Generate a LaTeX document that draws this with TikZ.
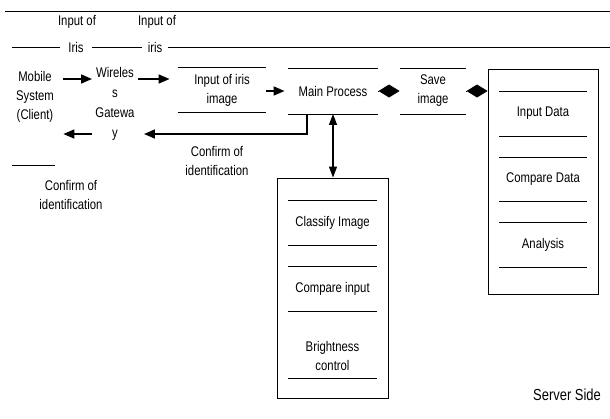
\documentclass[tikz,border=0pt]{standalone}
\usepackage{fontspec}
\setmainfont{Liberation Sans}[FakeStretch=0.81]
\usetikzlibrary{positioning,arrows.meta}
\tikzset{
  lbl/.style={align=center, font=\fontsize{14}{19}\selectfont, inner sep=3pt},
  item/.style={lbl, minimum width=88pt, minimum height=44pt},
  box/.style={draw, minimum width=110pt},
  arr/.style={line width=1.6pt, -{Triangle[length=11pt,width=9pt]}},
  dbl/.style={line width=1.3pt, {Triangle[length=11pt,width=8pt]}-{Triangle[length=11pt,width=8pt]}},
  dia/.style={-{Diamond[length=21pt,width=13pt]}},
}
\begin{document}
\begin{tikzpicture}[x=1pt, y=-1pt, line width=0.9pt]
    \useasboundingbox (0,0) rectangle (610,418);
    \draw (5,11) -- (610,11);
    % input labels on the line
    \node[lbl] (in1) at (77,22) {Input of};
    \node[lbl] (in2) at (157,22) {Input of};
    \node[lbl, inner xsep=8pt] (iris1) at (76,47) {Iris};
    \node[lbl, inner xsep=5pt] (iris2) at (155,47) {iris};
    \draw (12,47) -- (iris1) -- (iris2) -- (610,47);
    % client and gateway
    \node[lbl] (mobile) at (35,97) {Mobile\\System\\(Client)};
    \node[lbl, font=\fontsize{14}{20}\selectfont] (gw) at (115,104) {Wireles\\s\\Gatewa\\y};
    \draw[arr] ([shift={(6pt,18pt)}]mobile.east) -- ([yshift=25pt]gw.west);
    % server chain
    \node[item] (iimg) at (222,90) {Input of iris\\image};
    \node[item, minimum width=90pt, minimum height=45pt] (main) at (333,91) {Main Process};
    \node[item, minimum width=66pt, minimum height=45pt] (save) at (433,91) {Save\\image};
    \draw[arr] ([yshift=25pt]gw.east) -- ([shift={(-8pt,11pt)}]iimg.west);
    \draw[arr] (iimg.east |- main) -- ([xshift=-3pt]main.west);
    \draw[dia] (main.east) -- (save.west);
    % data box
    \node[box, minimum height=225pt] (db) at (543,182) {};
    \draw[dia] (save.east) -- (db.west |- save);
    \node[item, minimum width=87pt, below=22pt of db.north] (ind) {Input Data};
    \node[item, minimum width=87pt, below=21pt of ind] (cmd) {Compare Data};
    \node[item, minimum width=87pt, below=21pt of cmd] (ana) {Analysis};
    % process box
    \node[box, minimum width=111pt, minimum height=220pt] (proc) at (332.5,288) {};
    \node[item, minimum width=89pt, below=23pt of proc.north] (cls) {Classify Image};
    \node[item, minimum width=89pt, below=21pt of cls] (cmp) {Compare input};
    \node[item, minimum width=89pt, below=22pt of cmp] (brt) {Brightness\\control};
    \draw[dbl] (main.south) -- (main.south |- proc.north);
    \foreach \n in {iimg,main,save,ind,cmd,ana,cls,cmp}
        \draw (\n.north west) -- (\n.north east) (\n.south west) -- (\n.south east);
    \draw (brt.south west) -- (brt.south east);
    % confirmation back to client
    \draw[arr] ([xshift=-26pt]main.south) |- ([shift={(6pt,-30pt)}]gw.east);
    \node[lbl] (conf1) at (217,161) {Confirm of\\identification};
    \draw[arr] ([yshift=-30pt]gw.west) -- ([shift={(6pt,-37pt)}]mobile.east);
    \draw (12,165) -- (55,165);
    \node[lbl] (conf2) at (71,195) {Confirm of\\identification};
    \node[lbl, font=\fontsize{16}{19}\selectfont] (srv) at (567,395) {Server Side};
\end{tikzpicture}
\end{document}
